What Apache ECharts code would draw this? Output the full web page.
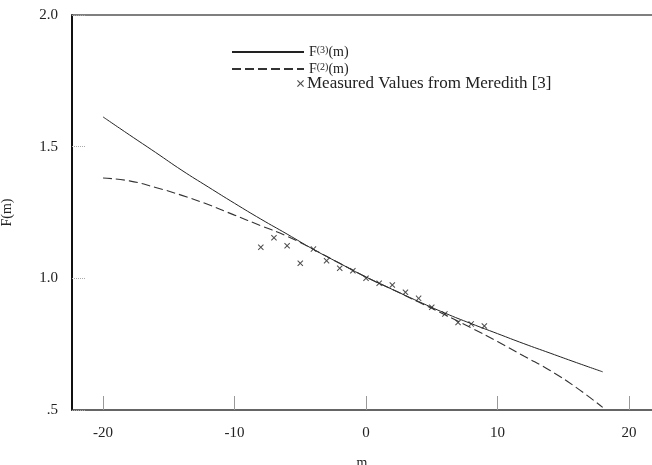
<!DOCTYPE html>
<html>
<head>
<meta charset="utf-8">
<title>F(m)</title>
<script src="https://cdn.jsdelivr.net/npm/echarts@6/dist/echarts.min.js"></script>
<style>
  html, body { margin: 0; padding: 0; background: #fff; }
  #chart { width: 652px; height: 465px; }
</style>
</head>
<body>
<div id="chart"></div>
<script>
// m sample points for the two model curves
const mValues = [-20, -18, -16, -14, -12, -10, -8, -6, -4, -2, 0, 2, 4, 6, 8, 10, 12, 14, 16, 18];
// third-order model F(3)(m)
const f3Values = [1.613, 1.545, 1.478, 1.41, 1.347, 1.285, 1.225, 1.168, 1.11, 1.057, 1.005, 0.958, 0.912, 0.868, 0.828, 0.79, 0.752, 0.716, 0.68, 0.645];
// second-order model F(2)(m)
const f2Values = [1.381, 1.37, 1.345, 1.315, 1.28, 1.24, 1.2, 1.16, 1.11, 1.057, 1.005, 0.958, 0.91, 0.862, 0.812, 0.76, 0.705, 0.65, 0.585, 0.51];
// measured values (Meredith)
const measuredM = [-8, -7, -6, -5, -4, -3, -2, -1, 0, 1, 2, 3, 4, 5, 6, 7, 8, 9];
const measuredF = [1.118, 1.154, 1.124, 1.057, 1.111, 1.067, 1.038, 1.029, 1.0, 0.981, 0.975, 0.947, 0.924, 0.890, 0.865, 0.832, 0.827, 0.819];
// axis ticks
const xTicks = [-20, -10, 0, 10, 20];
const yTickLabels = { 0.5: '.5', 1: '1.0', 1.5: '1.5', 2: '2.0' };

const SERIF = '"Liberation Serif", "DejaVu Serif", serif';
const INK = '#222';
const CROSS = 'path://M0,1.2L1.2,0L5,3.8L8.8,0L10,1.2L6.2,5L10,8.8L8.8,10L5,6.2L1.2,10L0,8.8L3.8,5Z';

const pair = (xs, ys) => xs.map((x, i) => [x, ys[i]]);

const chart = echarts.init(document.getElementById('chart'), null, { renderer: 'canvas' });

chart.setOption({
  backgroundColor: '#fff',
  animation: false,
  textStyle: { fontFamily: SERIF, color: INK },
  grid: { left: 72, right: 0, top: 15, bottom: 55, containLabel: false, outerBoundsMode: 'none' },
  legend: [
    {
      data: ['F3', 'F2'],
      orient: 'vertical',
      left: 226,
      top: 40,
      itemWidth: 72,
      itemHeight: 12,
      itemGap: 3,
      itemStyle: { color: 'rgba(0,0,0,0)', borderWidth: 0, opacity: 0 },
      formatter: name => name === 'F3' ? 'F{s|(3)}(m)' : 'F{s|(2)}(m)',
      textStyle: {
        fontFamily: SERIF, fontSize: 14, color: INK,
        rich: { s: { fontFamily: SERIF, fontSize: 10, verticalAlign: 'top', color: INK } }
      }
    },
    {
      data: ['Measured Values from Meredith [3]'],
      left: 292,
      top: 70,
      itemWidth: 7,
      itemHeight: 7,
      itemGap: 0,
      textStyle: { fontFamily: SERIF, fontSize: 17, color: INK, padding: [0, 0, 0, -2] }
    }
  ],
  xAxis: [
    {
      type: 'value',
      min: -22.36,
      max: 21.75,
      name: 'm',
      nameLocation: 'middle',
      nameGap: 46,
      nameTextStyle: { fontFamily: SERIF, fontSize: 14, color: INK },
      splitLine: { show: false },
      axisLine: { show: true, onZero: false, lineStyle: { color: '#333', width: 1.5 } },
      axisTick: { show: true, inside: true, length: 14, customValues: xTicks, lineStyle: { color: '#999', width: 1 } },
      axisLabel: { customValues: xTicks, margin: 16, fontFamily: SERIF, fontSize: 15, color: INK },
    },
    {
      type: 'value',
      position: 'top',
      min: -22.36,
      max: 21.75,
      splitLine: { show: false },
      axisLine: { show: true, onZero: false, lineStyle: { color: '#555', width: 1.5 } },
      axisTick: { show: false },
      axisLabel: { show: false }
    }
  ],
  yAxis: {
    type: 'value',
    min: 0.5,
    max: 2.0,
    interval: 0.5,
    name: 'F(m)',
    nameLocation: 'middle',
    nameGap: 58,
    nameTextStyle: { fontFamily: SERIF, fontSize: 14, color: INK },
    splitLine: { show: false },
    axisLine: { show: true, onZero: false, lineStyle: { color: '#111', width: 2 } },
    axisTick: { show: true, inside: true, length: 14, lineStyle: { color: '#aaa', width: 1, type: 'dotted' } },
    axisLabel: {
      margin: 14,
      fontFamily: SERIF,
      fontSize: 15,
      color: INK,
      formatter: v => yTickLabels[v] || ''
    }
  },
  series: [
    {
      name: 'F3',
      type: 'line',
      data: pair(mValues, f3Values),
      smooth: true,
      showSymbol: false,
      symbol: 'none',
      lineStyle: { color: '#222', width: 1, type: 'solid' },
      itemStyle: { color: '#222' }
    },
    {
      name: 'F2',
      type: 'line',
      data: pair(mValues, f2Values),
      smooth: true,
      showSymbol: false,
      symbol: 'none',
      lineStyle: { color: '#333', width: 1.1, type: [9, 4] },
      itemStyle: { color: '#333' }
    },
    {
      name: 'Measured Values from Meredith [3]',
      type: 'scatter',
      data: pair(measuredM, measuredF),
      symbol: CROSS,
      symbolSize: 6,
      itemStyle: { color: '#222' }
    }
  ]
});
</script>
</body>
</html>
